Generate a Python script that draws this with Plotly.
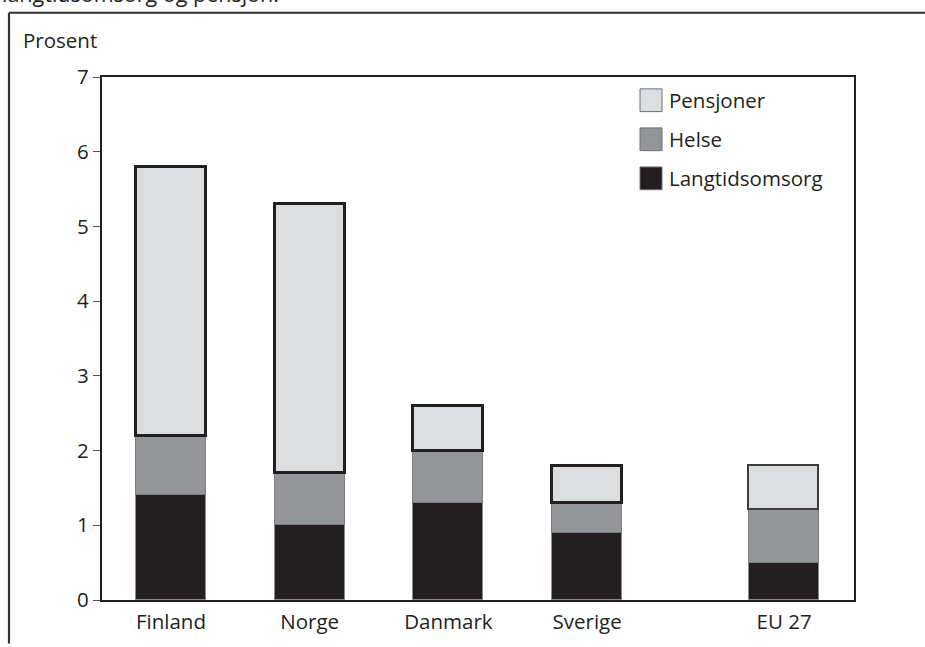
import plotly.graph_objects as go

# ---- data ----
categories = ["Finland", "Norge", "Danmark", "Sverige", "EU 27"]
series_names = ["Langtidsomsorg", "Helse", "Pensjoner"]
langtidsomsorg = [1.4, 1.0, 1.3, 0.9, 0.5]
helse = [0.8, 0.7, 0.7, 0.4, 0.7]
pensjoner = [3.6, 3.6, 0.6, 0.5, 0.6]
y_ticks = [0, 1, 2, 3, 4, 5, 6, 7]

# ---- style / layout ----
W, H = 925, 647
L, R, T, B = 102, 71, 77, 41
pw, ph = W - L - R, H - T - B
gap_extra = 0.42
xpos = [i + (gap_extra if c == "EU 27" else 0) for i, c in enumerate(categories)]
xmin, xmax = -0.497, 4.924
FONT = "Open Sans"
INK = "#231f20"
FS = 20.5

def px_x(px):
    return (px - L) / pw

def px_y(py):
    return (H - B - py) / ph

fills = {"Langtidsomsorg": "#231f20", "Helse": "#939598", "Pensjoner": "#dcdddf"}
nordic = [c != "EU 27" for c in categories]

fig = go.Figure()
fig.add_bar(x=xpos, y=langtidsomsorg, name=series_names[0], width=0.505,
            marker=dict(color=fills["Langtidsomsorg"], line=dict(color="#8a8b8d", width=1)))
fig.add_bar(x=xpos, y=helse, name=series_names[1], width=0.505,
            marker=dict(color=fills["Helse"], line=dict(color="#7d7e80", width=1)))
fig.add_bar(x=xpos, y=pensjoner, name=series_names[2], width=0.505,
            marker=dict(color=fills["Pensjoner"],
                        line=dict(color=[INK if n else "#3c3c3c" for n in nordic],
                                  width=[2.6 if n else 1.6 for n in nordic])))

shapes = []
annotations = []
# outer frame (top and left)
shapes.append(dict(type="line", xref="paper", yref="paper", x0=px_x(9), x1=px_x(930),
                   y0=px_y(12), y1=px_y(12), line=dict(color="#333333", width=2.2)))
shapes.append(dict(type="line", xref="paper", yref="paper", x0=px_x(9), x1=px_x(9),
                   y0=px_y(12), y1=px_y(650), line=dict(color="#333333", width=2.2)))

# clipped title line at top
annotations.append(dict(text="langtidsomsorg og pensjon.", xref="paper", yref="paper",
                        x=px_x(0), y=px_y(9), xanchor="left", yanchor="bottom",
                        showarrow=False, font=dict(family=FONT, size=21.5, color=INK)))
# y-axis unit label
annotations.append(dict(text="Prosent", xref="paper", yref="paper",
                        x=px_x(21), y=px_y(40), xanchor="left", yanchor="middle",
                        showarrow=False, font=dict(family=FONT, size=FS, color=INK)))

# legend (manual, larger swatches)
legend_order = ["Pensjoner", "Helse", "Langtidsomsorg"]
for i, name in enumerate(legend_order):
    top = 89 + i * 39.5
    shapes.append(dict(type="rect", xref="paper", yref="paper",
                       x0=px_x(640), x1=px_x(662), y0=px_y(top), y1=px_y(top + 23),
                       fillcolor=fills[name], line=dict(color="#6d6e70", width=1)))
    annotations.append(dict(text=name, xref="paper", yref="paper",
                            x=px_x(667), y=px_y(top + 11.5), xanchor="left", yanchor="middle",
                            showarrow=False, font=dict(family=FONT, size=FS, color=INK)))

fig.update_layout(
    width=W, height=H, barmode="stack", bargap=0,
    margin=dict(l=L, r=R, t=T, b=B, pad=0),
    paper_bgcolor="white", plot_bgcolor="white",
    showlegend=False,
    font=dict(family=FONT, size=FS, color=INK),
    shapes=shapes, annotations=annotations,
    xaxis=dict(range=[xmin, xmax], tickmode="array", tickvals=xpos, ticktext=categories,
               showline=True, linecolor=INK, linewidth=2.2, mirror=True,
               showgrid=False, zeroline=False, ticks="", tickfont=dict(size=FS),
               ticklabelstandoff=2),
    yaxis=dict(range=[0, 7], tickmode="array", tickvals=y_ticks,
               showline=True, linecolor=INK, linewidth=2.2, mirror=True,
               showgrid=False, zeroline=False, ticks="outside", ticklen=7,
               tickwidth=1.2, tickcolor="#555555", tickfont=dict(size=FS)),
)

fig.write_html("out.html", config={"displayModeBar": False},
               post_script="document.body.style.margin='0';document.body.style.overflow='hidden';")
